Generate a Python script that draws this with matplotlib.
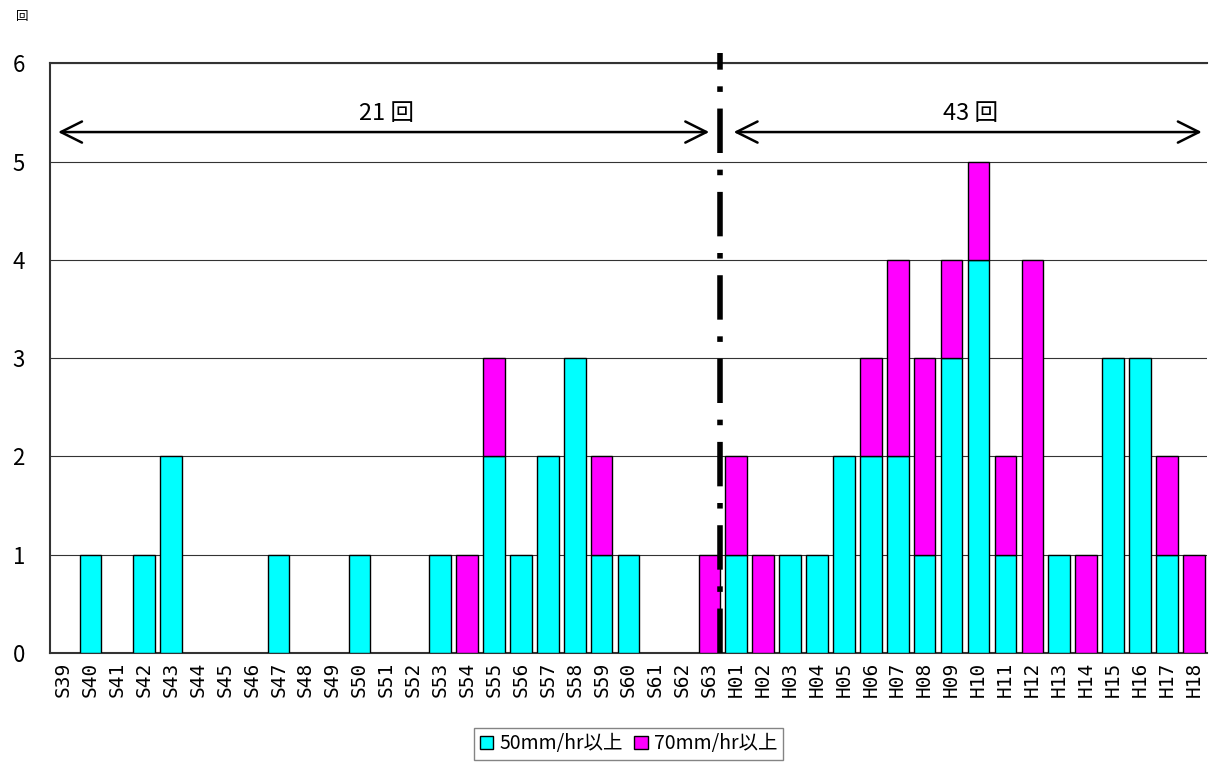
import numpy as np
import matplotlib
matplotlib.use('Agg')
from matplotlib import pyplot as plt
from matplotlib.patches import Patch

plt.rcParams['font.family'] = ['Noto Sans CJK JP', 'DejaVu Sans']

years_s = ['S%02d' % i for i in range(39, 64)]
years_h = ['H%02d' % i for i in range(1, 19)]
labels = years_s + years_h

# 50mm/hr以上
r50 = [0, 1, 0, 1, 2, 0, 0, 0, 1, 0, 0, 1, 0, 0, 1, 0, 2, 1, 2, 3, 1, 1, 0, 0, 0,
       1, 0, 1, 1, 2, 2, 2, 1, 3, 4, 1, 0, 1, 0, 3, 3, 1, 0]
# 70mm/hr以上
r70 = [0, 0, 0, 0, 0, 0, 0, 0, 0, 0, 0, 0, 0, 0, 0, 1, 1, 0, 0, 0, 1, 0, 0, 0, 1,
       1, 1, 0, 0, 0, 1, 2, 2, 1, 1, 1, 4, 0, 1, 0, 0, 1, 1]

x = np.arange(len(labels))

fig = plt.figure(figsize=(12.17, 7.62), dpi=100)
ax = fig.add_axes([0.041, 0.143, 0.951, 0.774])

lw50 = [1 if v > 0 else 0 for v in r50]
lw70 = [1 if v > 0 else 0 for v in r70]
ax.bar(x, r50, width=0.8, color='#00ffff', edgecolor='black', linewidth=lw50, zorder=3)
ax.bar(x, r70, width=0.8, bottom=r50, color='#ff00ff', edgecolor='black', linewidth=lw70, zorder=3)

ax.set_xlim(-0.5, len(labels) - 0.5)
ax.set_ylim(0, 6)
ax.set_yticks(range(7))
ax.yaxis.grid(True, color='#333333', linewidth=0.8, zorder=0)
ax.set_xticks(x)
ax.set_xticklabels(labels, rotation=90, fontsize=14, family=['DejaVu Sans Mono'])
ax.tick_params(axis='y', labelsize=16, length=0, pad=18)
ax.tick_params(axis='x', length=0, pad=6)
for s in ['left', 'top', 'bottom']:
    ax.spines[s].set_color('#333333')
    ax.spines[s].set_linewidth(1.5)
ax.spines['right'].set_visible(False)

# boundary between Showa and Heisei
ax.plot([24.4, 24.4], [0, 6.1], color='black', linewidth=4, linestyle=(0, (8, 3, 1, 3)),
        zorder=5, clip_on=False)

ax.annotate('', xy=(-0.3, 5.3), xytext=(24.1, 5.3),
            arrowprops=dict(arrowstyle='<->', lw=1.8, color='black', mutation_scale=38), zorder=6)
ax.annotate('', xy=(24.8, 5.3), xytext=(42.4, 5.3),
            arrowprops=dict(arrowstyle='<->', lw=1.8, color='black', mutation_scale=38), zorder=6)
ax.text(12, 5.37, '21 回', ha='center', va='bottom', fontsize=17)
ax.text(33.7, 5.37, '43 回', ha='center', va='bottom', fontsize=17)

fig.text(0.013, 0.978, '回', fontsize=9, ha='left', va='center')

handles = [Patch(facecolor='#00ffff', edgecolor='black', linewidth=1, label='50mm/hr以上'),
           Patch(facecolor='#ff00ff', edgecolor='black', linewidth=1, label='70mm/hr以上')]
ax.legend(handles=handles, loc='upper center', bbox_to_anchor=(0.5, -0.11), ncol=2, frameon=True,
          fancybox=False, edgecolor='#666666', fontsize=14, handlelength=0.7,
          handleheight=0.7, handletextpad=0.3, columnspacing=0.6, borderpad=0.3)

fig.savefig('out.png', dpi=100, facecolor='white')
